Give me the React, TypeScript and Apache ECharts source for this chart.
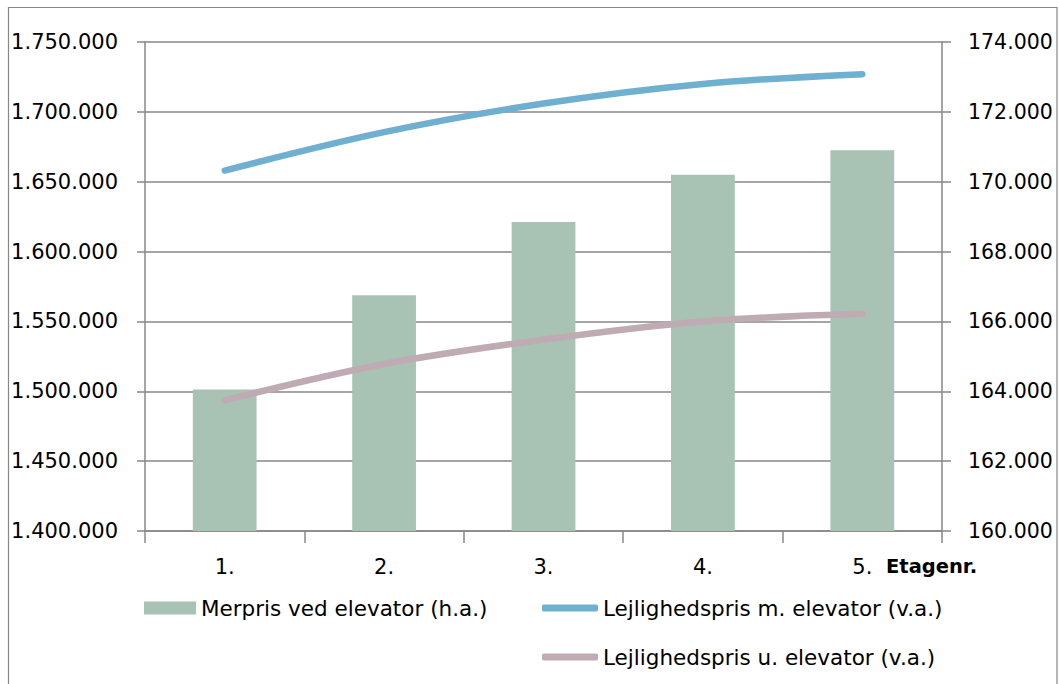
import React, { useEffect, useRef } from "react";
import * as echarts from "echarts";

const categories = ["1.", "2.", "3.", "4.", "5."];
const merprisValues = [164050, 166750, 168850, 170200, 170900];
const medElevatorValues = [1658000, 1685500, 1706000, 1720000, 1727000];
const udenElevatorValues = [1493500, 1519500, 1537000, 1550000, 1555500];
const leftTicks = { min: 1400000, max: 1750000, interval: 50000 };
const rightTicks = { min: 160000, max: 174000, interval: 2000 };

const S_BAR = "Merpris ved elevator (h.a.)";
const S_MED = "Lejlighedspris m. elevator (v.a.)";
const S_UDEN = "Lejlighedspris u. elevator (v.a.)";

const FONT = "DejaVu Sans";
const GREY = "#878787";
const fmt = (v: number) => String(Math.round(v)).replace(/\B(?=(\d{3})+(?!\d))/g, ".");

export default function App() {
  const ref = useRef<HTMLDivElement>(null);
  useEffect(() => {
    if (!ref.current) return;
    const chart = echarts.init(ref.current, null, { renderer: "svg" });
    const legendText = { color: "#000", fontFamily: FONT, fontSize: 21.5 };
    chart.setOption({
      animation: false,
      backgroundColor: "#fff",
      grid: { left: 145, right: 117, top: 42, bottom: 153 },
      xAxis: {
        type: "category",
        data: categories,
        boundaryGap: true,
        axisLine: { show: true, lineStyle: { color: GREY, width: 1.5 } },
        axisTick: { show: true, length: 12, lineStyle: { color: GREY, width: 1.5 } },
        axisLabel: { color: "#000", fontFamily: FONT, fontSize: 21, margin: 25 },
      },
      yAxis: [
        {
          type: "value",
          position: "left",
          min: leftTicks.min,
          max: leftTicks.max,
          interval: leftTicks.interval,
          axisLine: { show: true, lineStyle: { color: GREY, width: 1.5 } },
          axisTick: { show: true, length: 8, lineStyle: { color: GREY, width: 1.5 } },
          splitLine: { show: true, lineStyle: { color: GREY, width: 1.5 } },
          axisLabel: { color: "#000", fontFamily: FONT, fontSize: 21, margin: 27, formatter: fmt },
        },
        {
          type: "value",
          position: "right",
          min: rightTicks.min,
          max: rightTicks.max,
          interval: rightTicks.interval,
          axisLine: { show: true, lineStyle: { color: GREY, width: 1.5 } },
          axisTick: { show: true, length: 9, lineStyle: { color: GREY, width: 1.5 } },
          splitLine: { show: false },
          axisLabel: { color: "#000", fontFamily: FONT, fontSize: 20.5, margin: 26, formatter: fmt },
        },
      ],
      legend: [
        {
          data: [{ name: S_BAR, icon: "rect" }],
          left: 139,
          top: 592,
          itemWidth: 52,
          itemHeight: 13,
          textStyle: legendText,
          selectedMode: false,
        },
        {
          data: [{ name: S_MED, icon: "roundRect" }],
          left: 537,
          top: 592,
          itemWidth: 56,
          itemHeight: 7,
          textStyle: legendText,
          selectedMode: false,
        },
        {
          data: [{ name: S_UDEN, icon: "roundRect" }],
          left: 537,
          top: 641,
          itemWidth: 56,
          itemHeight: 7,
          textStyle: legendText,
          selectedMode: false,
        },
      ],
      graphic: [
        {
          type: "rect",
          shape: { x: 8.5, y: 7.5, width: 1048.5, height: 700 },
          style: { fill: "none", stroke: GREY, lineWidth: 1.2 },
          silent: true,
          z: -1,
        },
        {
          type: "text",
          x: 886,
          y: 566,
          style: {
            text: "Etagenr.",
            fill: "#000",
            font: `bold 19.5px "${FONT}"`,
            verticalAlign: "middle",
            align: "left",
          },
        },
      ],
      series: [
        {
          name: S_BAR,
          type: "bar",
          yAxisIndex: 1,
          data: merprisValues,
          barWidth: "40%",
          itemStyle: { color: "#A8C3B4" },
          z: 1,
        },
        {
          name: S_MED,
          type: "line",
          yAxisIndex: 0,
          data: medElevatorValues,
          smooth: 0.35,
          symbol: "none",
          itemStyle: { color: "#6FAFD0" },
          lineStyle: { color: "#6FAFD0", width: 6.5, cap: "round" },
          z: 3,
        },
        {
          name: S_UDEN,
          type: "line",
          yAxisIndex: 0,
          data: udenElevatorValues,
          smooth: 0.35,
          symbol: "none",
          itemStyle: { color: "#BFABB3" },
          lineStyle: { color: "#BFABB3", width: 6.5, cap: "round" },
          z: 3,
        },
      ],
    });
    return () => chart.dispose();
  }, []);
  return (
    <div
      ref={ref}
      style={{ position: "absolute", left: 0, top: 0, width: 1059, height: 684 }}
    />
  );
}
